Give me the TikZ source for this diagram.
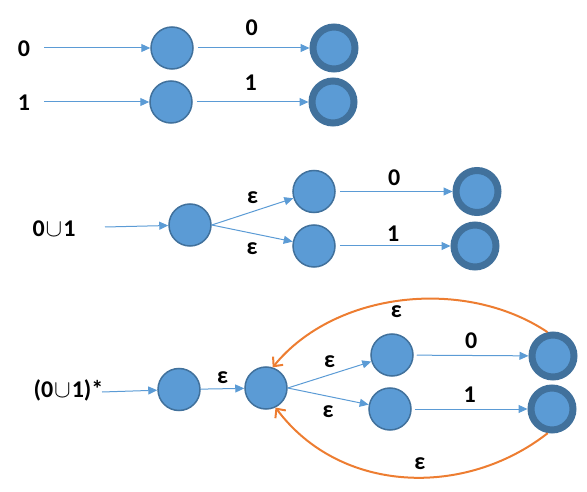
\documentclass[tikz,border=0pt]{standalone}
\usepackage{fontspec}
\setmainfont{Carlito}
\usepackage{tikz}
\usetikzlibrary{arrows.meta,positioning}
\definecolor{NFAFill}{HTML}{5B9BD5}
\definecolor{NFAEdge}{HTML}{41719C}
\definecolor{NFALoop}{HTML}{ED7D31}
\tikzset{
 state/.style={circle,draw=NFAEdge,fill=NFAFill,line width=1.5pt,minimum size=42pt,inner sep=0pt},
 accept/.style={state,line width=7pt},
 sym/.style={inner sep=0pt,font=\fontsize{24}{28}\selectfont\bfseries},
 move/.style={draw=NFAFill,line width=1pt,-{Triangle[length=9pt,width=8pt]}},
 backedge/.style={draw=NFALoop,line width=2pt,-{Straight Barb[length=7pt,width=13pt]}}
}
\begin{document}
\begin{tikzpicture}[x=1pt,y=-1pt]
\useasboundingbox (0,0) rectangle (587,492);
\node[sym] (x0) at (24,49) {0};
\node[sym] (x1) at (24,103) {1};
\coordinate (i0) at (44,48);
\coordinate (i1) at (44,102);
\node[state] (s0) at (172,48) {};
\node[state] (s1) at (171,102) {};
\node[accept] (f0) at (334,48) {};
\node[accept] (f1) at (333,102) {};
\draw[move] (i0) -- (s0);
\draw[move] (i1) -- (s1);
\draw[move,shorten <=4pt] (s0) -- node[sym,above=12pt] {0} (f0);
\draw[move,shorten <=4pt] (s1) -- node[sym,above=11pt] {1} (f1);
\node[sym] (x2) at (54,229) {0\kern1pt$\cup$\kern1pt1};
\coordinate (i2) at (105,227);
\node[state] (c) at (190,225) {};
\node[state] (u) at (314,191.5) {};
\node[state] (d) at (314,246) {};
\node[accept] (fu) at (477,191.5) {};
\node[accept] (fd) at (475,246) {};
\draw[move] (i2) -- (c);
\draw[move] (c.east) -- node[sym,above=7pt] {ε} (u);
\draw[move] (c.east) -- node[sym,below=9pt] {ε} (d);
\draw[move,shorten <=4pt] (u) -- node[sym,above=5pt] {0} (fu);
\draw[move,shorten <=4pt] (d) -- node[sym,above=4pt] {1} (fd);
\node[sym] (x3) at (68.5,390) {(0\kern1pt$\cup$\kern1pt1)*};
\coordinate (i3) at (102,392);
\node[state] (a) at (179,389.5) {};
\node[state] (b) at (266,388) {};
\node[state] (p) at (392,355) {};
\node[state] (q) at (390,409) {};
\node[accept] (fp) at (553,356) {};
\node[accept] (fq) at (552,409) {};
\draw[move] (i3) -- (a);
\draw[move] (a) -- node[sym,above=5pt] {ε} (b);
\draw[move] (b.east) -- node[sym,above=7pt] {ε} (p);
\draw[move] (b.east) -- node[sym,below=9pt] {ε} (q);
\draw[move,shorten <=3pt] (p) -- node[sym,above=6pt] {0} (fp);
\draw[move,shorten <=3pt] (q) -- node[sym,above=6pt] {1} (fq);
\draw[backedge] (fp.103) .. controls (465,277) and (335,291) .. node[sym,pos=0.52,below=3pt] {ε} (b.72);
\draw[backedge] (fq.-100) .. controls (465,498) and (340,494) .. node[sym,pos=0.45,above=7pt] {ε} (b.-64);
\end{tikzpicture}
\end{document}
